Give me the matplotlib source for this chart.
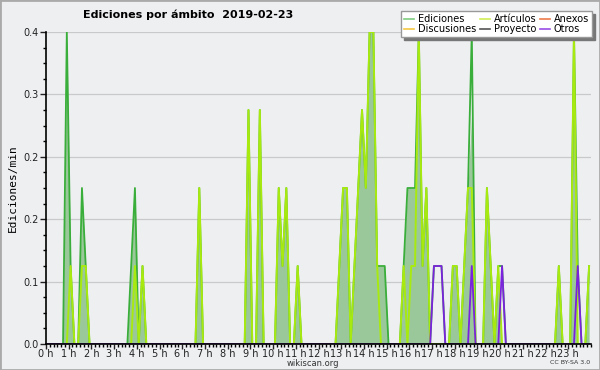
import numpy as np
import matplotlib
matplotlib.use("Agg")
import matplotlib.pyplot as plt
from matplotlib.lines import Line2D
from matplotlib.patches import Rectangle
from matplotlib.ticker import MultipleLocator, FixedLocator, FormatStrFormatter

# edits per minute, one value per 10-minute bucket (6 per hour, 2 hours per row)
ediciones = [
    0, 0, 0, 0, 0, 0.4, 0.1, 0, 0, 0.2, 0.1, 0,
    0, 0, 0, 0, 0, 0, 0, 0, 0, 0, 0.1, 0.2,
    0, 0.1, 0, 0, 0, 0, 0, 0, 0, 0, 0, 0,
    0, 0, 0, 0, 0.2, 0, 0, 0, 0, 0, 0, 0,
    0, 0, 0, 0, 0, 0.3, 0, 0, 0.3, 0, 0, 0,
    0, 0.2, 0.1, 0.2, 0, 0, 0.1, 0, 0, 0, 0, 0,
    0, 0, 0, 0, 0, 0.1, 0.2, 0.2, 0, 0.1, 0.2, 0.3,
    0.2, 0.4, 0.4, 0.1, 0.1, 0.1, 0, 0, 0, 0, 0.1, 0.2,
    0.2, 0.2, 0.4, 0.1, 0.2, 0, 0.1, 0.1, 0.1, 0, 0, 0.1,
    0.1, 0, 0.1, 0.2, 0.4, 0, 0, 0, 0.2, 0.1, 0, 0.1,
    0.1, 0, 0, 0, 0, 0, 0, 0, 0, 0, 0, 0,
    0, 0, 0, 0.1, 0, 0, 0, 0.4, 0.1, 0, 0, 0.1,
]
articulos = [
    0, 0, 0, 0, 0, 0, 0.1, 0, 0, 0.1, 0.1, 0,
    0, 0, 0, 0, 0, 0, 0, 0, 0, 0, 0, 0.1,
    0, 0.1, 0, 0, 0, 0, 0, 0, 0, 0, 0, 0,
    0, 0, 0, 0, 0.2, 0, 0, 0, 0, 0, 0, 0,
    0, 0, 0, 0, 0, 0.3, 0, 0, 0.3, 0, 0, 0,
    0, 0.2, 0.1, 0.2, 0, 0, 0.1, 0, 0, 0, 0, 0,
    0, 0, 0, 0, 0, 0.1, 0.2, 0.2, 0, 0.1, 0.2, 0.3,
    0.2, 0.4, 0.4, 0.1, 0, 0, 0, 0, 0, 0, 0.1, 0,
    0.1, 0.1, 0.4, 0.1, 0.2, 0, 0, 0, 0, 0, 0, 0.1,
    0.1, 0, 0.1, 0.2, 0.2, 0, 0, 0, 0.2, 0.1, 0, 0.1,
    0, 0, 0, 0, 0, 0, 0, 0, 0, 0, 0, 0,
    0, 0, 0, 0.1, 0, 0, 0, 0.4, 0, 0, 0, 0.1,
]
otros = [0] * 96 + [
    0, 0, 0, 0, 0, 0, 0.1, 0.1, 0.1, 0, 0, 0,
    0, 0, 0, 0, 0.1, 0, 0, 0, 0, 0, 0, 0,
    0.1, 0, 0, 0, 0, 0, 0, 0, 0, 0, 0, 0,
    0, 0, 0, 0, 0, 0, 0, 0, 0.1, 0, 0, 0,
]

legend_names = ["Ediciones", "Discusiones", "Artículos", "Proyecto", "Anexos", "Otros"]
legend_colors = ["#7fcc7f", "#f5c842", "#d0ee55", "#555555", "#ee7a4a", "#9a4ee8"]

hour_labels = [f"{h} h" for h in range(24)]
ytick_values = [0, 0.08, 0.16, 0.24, 0.32, 0.40]

bg = "#eeeff1"

# time of each bucket (middle of the 10 minutes), in hours
t = (np.arange(len(ediciones)) + 0.5) / 6
ed = np.array(ediciones)
ot = np.array(otros)

fig = plt.figure(figsize=(6, 3.7), dpi=100, facecolor=bg)
ax = fig.add_axes([46 / 600, 26 / 370, 545 / 600, 312 / 370])
ax.set_facecolor(bg)

ax.fill_between(t, 0, ed - ot, color="#9ac89a", lw=0, zorder=1)
ax.plot(t, ediciones, color="#3aae3a", lw=1.3, zorder=2)
ax.plot(t, articulos, color="#a8ea10", lw=1.4, zorder=3)
ax.plot(t, otros, color="#7a22dd", lw=1.3, zorder=4)

ax.set_xlim(0, 24)
ax.set_ylim(0, 0.4)
ax.xaxis.set_major_locator(FixedLocator(range(24)))
ax.set_xticklabels(hour_labels)
ax.xaxis.set_minor_locator(MultipleLocator(1 / 6))
ax.yaxis.set_major_locator(FixedLocator(ytick_values))
ax.yaxis.set_major_formatter(FormatStrFormatter("%.1f"))
ax.yaxis.set_minor_locator(MultipleLocator(0.02))

ax.grid(axis="y", color="#c9c9c9", lw=0.9)
ax.set_axisbelow(True)
for s in ["top", "right"]:
    ax.spines[s].set_visible(False)
for s in ["left", "bottom"]:
    ax.spines[s].set_linewidth(1.2)
    ax.spines[s].set_zorder(5)

ax.tick_params(axis="x", which="major", length=3.5, width=1, labelsize=7, pad=0, colors="#222222")
ax.tick_params(axis="x", which="minor", length=2.5, width=1)
ax.tick_params(axis="y", which="major", length=4, width=1, labelsize=7, pad=1, colors="#222222")
ax.tick_params(axis="y", which="minor", length=2.5, width=1)

ax.set_ylabel("Ediciones/min", family="DejaVu Sans Mono", fontsize=8, labelpad=4)

fig.text(188 / 600, 1 - 15 / 370, "Ediciones por ámbito  2019-02-23",
         ha="center", va="center", fontsize=8, fontweight="bold")
fig.text(313 / 600, 1 - 363 / 370, "wikiscan.org", ha="center", va="center",
         fontsize=6, color="#333333")
fig.text(590 / 600, 1 - 363 / 370, "CC BY-SA 3.0", ha="right", va="center",
         fontsize=4.5, color="#333333")

handles = [Line2D([], [], color=c, lw=1.2) for c in legend_colors]
leg = fig.legend(handles, legend_names, ncol=3, loc="upper right",
                 bbox_to_anchor=(592 / 600, 1 - 11 / 370), fontsize=7,
                 frameon=True, fancybox=False, shadow={"color": "#777777", "alpha": 1},
                 handlelength=1.0, handletextpad=0.4, columnspacing=0.4,
                 labelspacing=0.0, borderpad=0.3, borderaxespad=0)
leg.get_frame().set_edgecolor("#999999")
leg.get_frame().set_linewidth(1.0)

# thin grey frame round the picture
fig.patches.append(Rectangle((0, 0), 1, 1, transform=fig.transFigure, fill=False,
                             edgecolor="#aaaaaa", lw=2))

fig.savefig("out.png", dpi=100, facecolor=bg)
